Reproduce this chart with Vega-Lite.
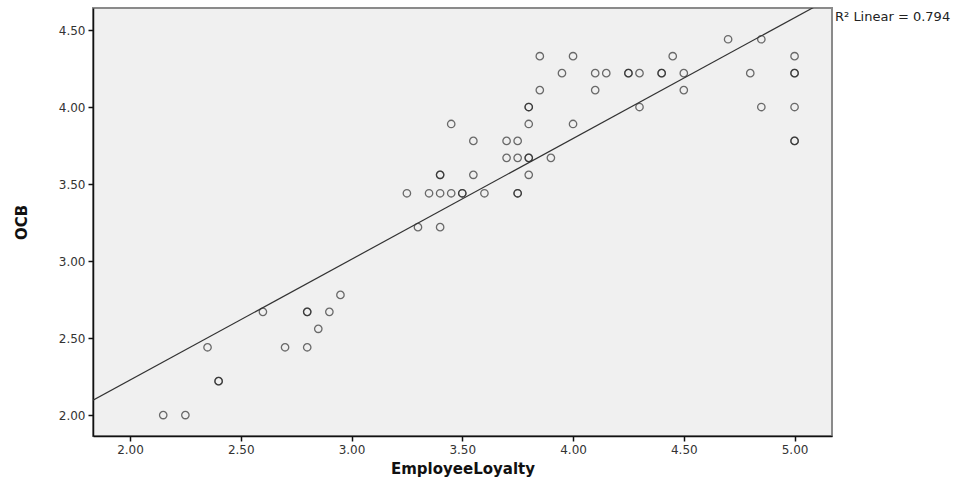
{
  "$schema": "https://vega.github.io/schema/vega-lite/v6.json",
  "width": 739,
  "height": 428,
  "autosize": {"type": "none"},
  "padding": {"left": 93, "top": 8, "right": 136, "bottom": 47},
  "background": "white",
  "config": {
    "view": {"fill": "#f0f0f0", "stroke": "#8a8a8a", "strokeWidth": 2},
    "font": "DejaVu Sans",
    "axis": {
      "grid": false,
      "domainColor": "#111",
      "domainWidth": 1.5,
      "tickColor": "#111",
      "tickWidth": 1.5,
      "tickSize": 5,
      "labelFont": "DejaVu Sans",
      "labelFontSize": 12,
      "labelColor": "#333",
      "titleFont": "DejaVu Sans",
      "titleFontSize": 15,
      "titleFontWeight": "bold",
      "titleColor": "#111"
    }
  },
  "data": {
    "values": [
      {"EmployeeLoyalty": 2.15, "OCB": 2.00},
      {"EmployeeLoyalty": 2.25, "OCB": 2.00},
      {"EmployeeLoyalty": 2.35, "OCB": 2.44},
      {"EmployeeLoyalty": 2.40, "OCB": 2.22},
      {"EmployeeLoyalty": 2.40, "OCB": 2.22},
      {"EmployeeLoyalty": 2.60, "OCB": 2.67},
      {"EmployeeLoyalty": 2.70, "OCB": 2.44},
      {"EmployeeLoyalty": 2.80, "OCB": 2.44},
      {"EmployeeLoyalty": 2.80, "OCB": 2.67},
      {"EmployeeLoyalty": 2.80, "OCB": 2.67},
      {"EmployeeLoyalty": 2.85, "OCB": 2.56},
      {"EmployeeLoyalty": 2.90, "OCB": 2.67},
      {"EmployeeLoyalty": 2.95, "OCB": 2.78},
      {"EmployeeLoyalty": 3.25, "OCB": 3.44},
      {"EmployeeLoyalty": 3.30, "OCB": 3.22},
      {"EmployeeLoyalty": 3.35, "OCB": 3.44},
      {"EmployeeLoyalty": 3.40, "OCB": 3.44},
      {"EmployeeLoyalty": 3.40, "OCB": 3.22},
      {"EmployeeLoyalty": 3.40, "OCB": 3.56},
      {"EmployeeLoyalty": 3.40, "OCB": 3.56},
      {"EmployeeLoyalty": 3.45, "OCB": 3.44},
      {"EmployeeLoyalty": 3.45, "OCB": 3.89},
      {"EmployeeLoyalty": 3.50, "OCB": 3.44},
      {"EmployeeLoyalty": 3.50, "OCB": 3.44},
      {"EmployeeLoyalty": 3.55, "OCB": 3.56},
      {"EmployeeLoyalty": 3.55, "OCB": 3.78},
      {"EmployeeLoyalty": 3.60, "OCB": 3.44},
      {"EmployeeLoyalty": 3.70, "OCB": 3.78},
      {"EmployeeLoyalty": 3.70, "OCB": 3.67},
      {"EmployeeLoyalty": 3.75, "OCB": 3.78},
      {"EmployeeLoyalty": 3.75, "OCB": 3.67},
      {"EmployeeLoyalty": 3.75, "OCB": 3.44},
      {"EmployeeLoyalty": 3.75, "OCB": 3.44},
      {"EmployeeLoyalty": 3.80, "OCB": 3.67},
      {"EmployeeLoyalty": 3.80, "OCB": 3.67},
      {"EmployeeLoyalty": 3.80, "OCB": 3.56},
      {"EmployeeLoyalty": 3.80, "OCB": 3.89},
      {"EmployeeLoyalty": 3.80, "OCB": 4.00},
      {"EmployeeLoyalty": 3.80, "OCB": 4.00},
      {"EmployeeLoyalty": 3.85, "OCB": 4.33},
      {"EmployeeLoyalty": 3.85, "OCB": 4.11},
      {"EmployeeLoyalty": 3.90, "OCB": 3.67},
      {"EmployeeLoyalty": 3.95, "OCB": 4.22},
      {"EmployeeLoyalty": 4.00, "OCB": 4.33},
      {"EmployeeLoyalty": 4.00, "OCB": 3.89},
      {"EmployeeLoyalty": 4.10, "OCB": 4.22},
      {"EmployeeLoyalty": 4.10, "OCB": 4.11},
      {"EmployeeLoyalty": 4.15, "OCB": 4.22},
      {"EmployeeLoyalty": 4.25, "OCB": 4.22},
      {"EmployeeLoyalty": 4.25, "OCB": 4.22},
      {"EmployeeLoyalty": 4.30, "OCB": 4.22},
      {"EmployeeLoyalty": 4.30, "OCB": 4.00},
      {"EmployeeLoyalty": 4.40, "OCB": 4.22},
      {"EmployeeLoyalty": 4.40, "OCB": 4.22},
      {"EmployeeLoyalty": 4.45, "OCB": 4.33},
      {"EmployeeLoyalty": 4.50, "OCB": 4.22},
      {"EmployeeLoyalty": 4.50, "OCB": 4.11},
      {"EmployeeLoyalty": 4.70, "OCB": 4.44},
      {"EmployeeLoyalty": 4.80, "OCB": 4.22},
      {"EmployeeLoyalty": 4.85, "OCB": 4.44},
      {"EmployeeLoyalty": 4.85, "OCB": 4.00},
      {"EmployeeLoyalty": 5.00, "OCB": 4.33},
      {"EmployeeLoyalty": 5.00, "OCB": 4.22},
      {"EmployeeLoyalty": 5.00, "OCB": 4.22},
      {"EmployeeLoyalty": 5.00, "OCB": 4.00},
      {"EmployeeLoyalty": 5.00, "OCB": 3.78},
      {"EmployeeLoyalty": 5.00, "OCB": 3.78}
    ]
  },
  "layer": [
    {
      "mark": {"type": "point", "shape": "circle", "filled": false, "size": 55, "stroke": "#222", "strokeWidth": 1.3, "opacity": 0.65},
      "encoding": {
        "x": {
          "field": "EmployeeLoyalty", "type": "quantitative",
          "scale": {"domain": [1.833, 5.169], "nice": false, "zero": false},
          "axis": {"values": [2, 2.5, 3, 3.5, 4, 4.5, 5], "format": ".2f", "title": "EmployeeLoyalty", "labelPadding": 3, "titlePadding": 6}
        },
        "y": {
          "field": "OCB", "type": "quantitative",
          "scale": {"domain": [1.864, 4.643], "nice": false, "zero": false},
          "axis": {"values": [2, 2.5, 3, 3.5, 4, 4.5], "format": ".2f", "title": "OCB", "labelPadding": 3, "titlePadding": 29}
        }
      }
    },
    {
      "transform": [{"regression": "OCB", "on": "EmployeeLoyalty", "extent": [1.833, 5.3]}],
      "mark": {"type": "line", "color": "#333", "strokeWidth": 1.2, "clip": true},
      "encoding": {
        "x": {"field": "EmployeeLoyalty", "type": "quantitative"},
        "y": {"field": "OCB", "type": "quantitative"}
      }
    },
    {
      "data": {"values": [{"label": "R² Linear = 0.794"}]},
      "mark": {"type": "text", "align": "left", "baseline": "middle", "dx": 3, "fontSize": 13, "color": "#222", "clip": false, "font": "DejaVu Sans"},
      "encoding": {
        "x": {"datum": 5.169},
        "y": {"datum": 4.585},
        "text": {"field": "label"}
      }
    }
  ]
}
